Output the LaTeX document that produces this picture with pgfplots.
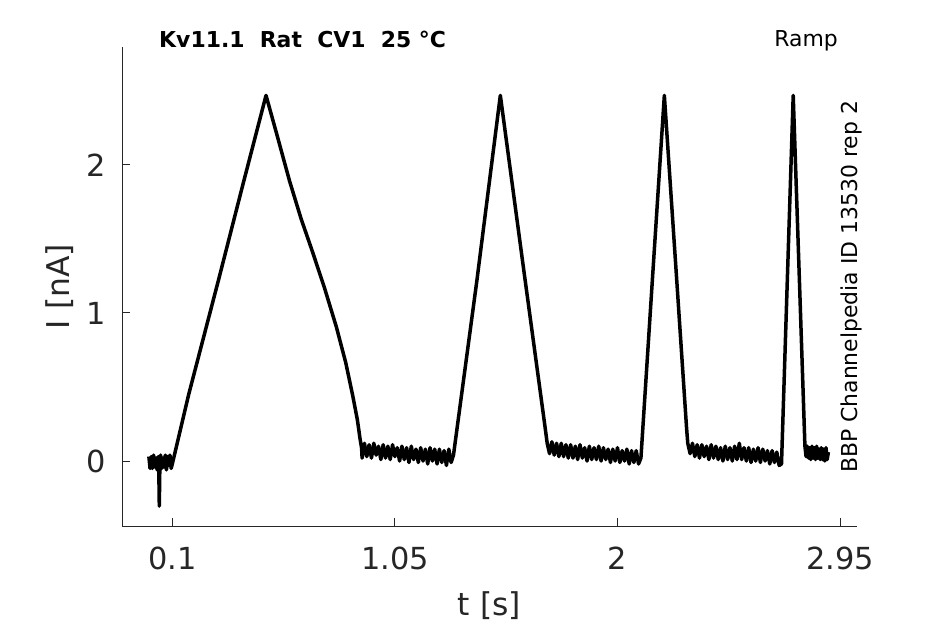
\documentclass[border=0pt]{standalone}
\usepackage{fontspec}
\setmainfont{DejaVu Sans}
\usepackage{pgfplots}
\pgfplotsset{compat=1.18}
\definecolor{axc}{HTML}{262626}
\begin{document}
\begin{tikzpicture}
\path[use as bounding box] (0,0) rectangle (945bp,624bp);
\begin{axis}[
  at={(122bp,98bp)}, anchor=south west,
  scale only axis, width=734.7bp, height=479bp,
  xmin=-0.1147, xmax=3.021, ymin=-0.439, ymax=2.797,
  axis x line*=bottom, axis y line*=left,
  axis line style={-, draw=axc, line width=1bp},
  tick align=inside, major tick length=8bp,
  tick style={draw=axc, line width=1bp},
  xtick={0.1,1.05,2,2.95}, xticklabels={0.1,1.05,2,2.95},
  ytick={0,1,2}, yticklabels={0,1,2},
  ticklabel style={font=\fontsize{30.5}{36}\selectfont, text=axc, inner sep=0pt},
  xticklabel style={anchor=north, yshift=-20.5bp},
  yticklabel style={anchor=east, xshift=-16bp},
  xlabel={t [s]}, ylabel={I [nA]},
  xlabel style={at={(axis description cs:0.5,-0.1858)}, anchor=base, font=\fontsize{31.5}{38}\selectfont, text=axc, inner sep=0pt},
  ylabel style={at={(axis description cs:-0.0708,0.5)}, anchor=base, font=\fontsize{31.5}{38}\selectfont, text=axc, inner sep=0pt},
  clip=false,
]
\addplot[black, line width=3.5bp, line join=round] coordinates {
(0,0.03)(0.005,-0.05)(0.01,0.03)(0.015,-0.05)(0.02,0.04)(0.025,-0.04)(0.03,0.02)(0.035,-0.06)(0.04,0.03)(0.042,-0.02)(0.0445,-0.305)(0.047,-0.02)(0.05,0.04)(0.055,-0.05)(0.06,0.02)(0.065,-0.04)(0.07,0.04)(0.075,-0.06)(0.08,0.03)(0.085,-0.03)(0.09,0.04)(0.095,-0.05)(0.1,-0.02)
(0.17,0.45)(0.3,1.24)(0.4,1.86)(0.5,2.47)
(0.55,2.184)(0.60,1.894)(0.65,1.635)(0.70,1.406)(0.75,1.167)(0.80,0.907)(0.84,0.666)(0.87,0.442)(0.89,0.277)(0.901,0.153)(0.908,0.086)
(0.91,0.02)(0.92,0.12)(0.93,0.03)(0.94,0.11)(0.95,0.02)(0.96,0.12)(0.97,0.04)(0.98,0.10)(0.99,0.01)(1.00,0.11)(1.01,0.02)(1.02,0.10)(1.03,0.01)(1.04,0.11)(1.05,0.03)(1.06,0.09)(1.07,0.00)(1.08,0.10)(1.09,0.01)(1.10,0.09)(1.11,-0.01)(1.12,0.10)(1.13,0.01)(1.14,0.08)(1.15,-0.01)(1.16,0.09)(1.17,0.00)(1.18,0.08)(1.19,-0.02)(1.20,0.09)(1.21,0.00)(1.22,0.08)(1.23,-0.02)(1.24,0.08)(1.25,-0.01)(1.26,0.07)(1.27,-0.03)(1.28,0.08)(1.29,-0.01)(1.30,0.04)
(1.40,1.22)(1.50,2.47)(1.60,1.29)(1.69,0.24)(1.70,0.12)
(1.71,0.05)(1.72,0.13)(1.73,0.04)(1.74,0.12)(1.75,0.03)(1.76,0.12)(1.77,0.03)(1.78,0.11)(1.79,0.02)(1.80,0.11)(1.81,0.02)(1.82,0.10)(1.83,0.01)(1.84,0.11)(1.85,0.02)(1.86,0.09)(1.87,0.00)(1.88,0.10)(1.89,0.01)(1.90,0.09)(1.91,0.01)(1.92,0.10)(1.93,0.00)(1.94,0.09)(1.95,0.01)(1.96,0.08)(1.97,-0.01)(1.98,0.08)(1.99,0.00)(2.00,0.09)(2.01,-0.01)(2.02,0.07)(2.03,0.00)(2.04,0.08)(2.05,-0.02)(2.06,0.07)(2.07,-0.01)(2.08,0.07)(2.09,-0.02)(2.10,0.02)
(2.15,1.25)(2.20,2.47)(2.25,1.29)(2.295,0.22)(2.30,0.12)
(2.31,0.05)(2.32,0.12)(2.33,0.03)(2.34,0.11)(2.35,0.02)(2.36,0.11)(2.37,0.03)(2.38,0.10)(2.39,0.01)(2.40,0.11)(2.41,0.02)(2.42,0.10)(2.43,0.01)(2.44,0.09)(2.45,0.00)(2.46,0.10)(2.47,0.01)(2.48,0.09)(2.49,0.00)(2.50,0.10)(2.51,0.01)(2.52,0.12)(2.53,0.01)(2.54,0.09)(2.55,0.00)(2.56,0.09)(2.57,-0.01)(2.58,0.08)(2.59,0.00)(2.60,0.09)(2.61,-0.01)(2.62,0.08)(2.63,0.00)(2.64,0.07)(2.65,-0.02)(2.66,0.07)(2.67,-0.01)(2.68,0.06)(2.69,-0.03)(2.70,-0.02)
(2.725,1.23)(2.75,2.47)(2.775,1.29)(2.80,0.10)
(2.805,0.03)(2.81,0.10)(2.815,0.02)(2.82,0.09)(2.825,0.01)(2.83,0.10)(2.835,0.02)(2.84,0.09)(2.845,0.01)(2.85,0.10)(2.855,0.02)(2.86,0.08)(2.865,0.01)(2.87,0.09)(2.875,0.01)(2.88,0.08)(2.885,0.00)(2.89,0.09)(2.895,0.01)(2.90,0.06)
};
\node[anchor=base west, inner sep=0pt, font=\fontsize{22}{26}\selectfont\bfseries] at (axis description cs:0.0504,0.9994) {Kv11.1\ \ Rat\ \ CV1\ \ 25\ °C};
\node[anchor=base east, inner sep=0pt, font=\fontsize{22}{26}\selectfont] at (axis description cs:0.9746,1.0) {Ramp};
\node[rotate=90, anchor=base west, inner sep=0pt, font=\fontsize{22}{26}\selectfont] at (axis description cs:1.0004,0.1106) {BBP Channelpedia ID 13530 rep 2};
\end{axis}
\end{tikzpicture}
\end{document}
